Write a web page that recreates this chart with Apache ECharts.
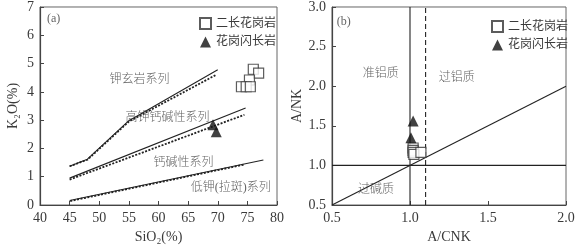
<!DOCTYPE html>
<html><head><meta charset="utf-8">
<script src="https://cdn.jsdelivr.net/npm/echarts@6/dist/echarts.min.js"></script>
<style>html,body{margin:0;padding:0;background:#fff}#c{width:579px;height:251px}</style>
</head><body><div id="c"></div>
<script>
// ---- Chart (a): SiO2 vs K2O ----
const aXTicks = [40,45,50,55,60,65,70,75,80];
const aYTicks = [0,1,2,3,4,5,6,7];
const aMonzoGranite = [[76.0,4.80],[76.9,4.66],[75.35,4.42],[74.0,4.18],[74.8,4.18],[75.5,4.18]];
const aGranodiorite = [[69.2,2.84],[69.75,2.59]];
const aShoSolid = [[45,1.37],[48,1.62],[55,2.98],[70,4.78]];
const aShoDot = [[45,1.37],[48,1.6],[55,2.95],[69.7,4.6]];
const aHkSolid = [[45,0.95],[74.7,3.43]];
const aHkDot = [[45,0.90],[74.5,3.19]];
const aLkSolid = [[45,0.16],[77.7,1.59]];
const aLkDot = [[45.1,0.14],[74.5,1.43]];
const aLabels = [[56.8,4.42,'钾玄岩系列'],[61.5,3.08,'高钾钙碱性系列'],[64.2,1.5,'钙碱性系列'],[72.2,0.62,'低钾(拉斑)系列'],[42.3,6.57,'(a)']];

// ---- Chart (b): A/CNK vs A/NK ----
const bXTicks = [0.5,1.0,1.5,2.0];
const bYTicks = [0.5,1.0,1.5,2.0,2.5,3.0];
const bMonzoGranite = [[1.02,1.22],[1.02,1.19],[1.02,1.165],[1.025,1.14],[1.07,1.165]];
const bGranodiorite = [[1.02,1.56],[1.006,1.35]];
const bVert1 = [[1.0,0.5],[1.0,3.0]];
const bVert11 = [[1.1,0.5],[1.1,3.0]];
const bHoriz = [[0.5,1.0],[2.0,1.0]];
const bDiag = [[0.5,0.5],[2.0,2.0]];
const bLabels = [[0.812,2.16,'准铝质'],[1.30,2.10,'过铝质'],[0.782,0.69,'过碱质'],[0.575,2.815,'(b)']];

const FONT = "'Liberation Serif','Noto Sans CJK SC',serif";
const TXT = '#3a3a3a';
const LINE = '#222';

function axisCommon(){
  return {
    axisLine:{show:true,onZero:false,lineStyle:{color:'#444',width:1.2}},
    axisTick:{show:true,inside:true,length:4,lineStyle:{color:'#444'}},
    splitLine:{show:false},
    axisLabel:{color:TXT,fontFamily:FONT,fontSize:14,margin:6},
    nameTextStyle:{color:TXT,fontFamily:FONT,fontSize:14}
  };
}
function lineS(data,xi,dotted){
  return {type:'line',xAxisIndex:xi,yAxisIndex:xi,data:data,symbol:'none',silent:true,
    lineStyle:{color:LINE,width:dotted?1.8:1.1,type:dotted?[2,1.5]:'solid'},z:2};
}
function labelS(arr,xi){
  return {type:'scatter',xAxisIndex:xi,yAxisIndex:xi,symbolSize:0,silent:true,
    data:arr.map(d=>({value:[d[0],d[1]],name:d[2]})),
    label:{show:true,position:'inside',formatter:p=>p.name,color:TXT,fontFamily:FONT,fontSize:12,fontWeight:300},z:5};
}
const sq = {color:'#fff',borderColor:'#333',borderWidth:1.2};
const tri = {color:'#111'};

const chart = echarts.init(document.getElementById('c'),null,{renderer:'canvas'});
chart.setOption({
  animation:false,
  grid:[
    {left:40,right:302,top:6,bottom:46,show:true,borderColor:'#666',borderWidth:1},
    {left:332,right:13,top:6,bottom:46,show:true,borderColor:'#666',borderWidth:1}
  ],
  xAxis:[
    Object.assign(axisCommon(),{type:'value',gridIndex:0,min:aXTicks[0],max:aXTicks[aXTicks.length-1],interval:5,
      name:'SiO₂(%)',nameLocation:'middle',nameGap:20}),
    Object.assign(axisCommon(),{type:'value',gridIndex:1,min:bXTicks[0],max:bXTicks[bXTicks.length-1],interval:0.5,
      name:'A/CNK',nameLocation:'middle',nameGap:25,
      axisLabel:{color:TXT,fontFamily:FONT,fontSize:14,margin:6,formatter:v=>v.toFixed(1)}})
  ],
  yAxis:[
    Object.assign(axisCommon(),{type:'value',gridIndex:0,min:aYTicks[0],max:aYTicks[aYTicks.length-1],interval:1,
      name:'K₂O(%)',nameLocation:'middle',nameGap:20}),
    Object.assign(axisCommon(),{type:'value',gridIndex:1,min:bYTicks[0],max:bYTicks[bYTicks.length-1],interval:0.5,
      name:'A/NK',nameLocation:'middle',nameGap:28,
      axisLabel:{color:TXT,fontFamily:FONT,fontSize:14,margin:6,formatter:v=>v.toFixed(1)}})
  ],
  legend:[
    {orient:'vertical',left:194,top:12,itemWidth:11,itemHeight:11,itemGap:6,
     textStyle:{color:TXT,fontFamily:FONT,fontSize:12},
     data:[{name:'二长花岗岩',icon:'rect'},{name:'花岗闪长岩',icon:'triangle'}]},
    {orient:'vertical',left:486,top:15,itemWidth:11,itemHeight:11,itemGap:6,
     textStyle:{color:TXT,fontFamily:FONT,fontSize:12},
     data:[{name:'二长花岗岩',icon:'rect'},{name:'花岗闪长岩',icon:'triangle'}]}
  ],
  series:[
    lineS(aShoSolid,0,false), lineS(aShoDot,0,true),
    lineS(aHkSolid,0,false), lineS(aHkDot,0,true),
    lineS(aLkSolid,0,false), lineS(aLkDot,0,true),
    labelS(aLabels,0),
    {type:'scatter',name:'二长花岗岩',xAxisIndex:0,yAxisIndex:0,data:aMonzoGranite,symbol:'rect',symbolSize:10,itemStyle:sq,z:6},
    {type:'scatter',name:'花岗闪长岩',xAxisIndex:0,yAxisIndex:0,data:aGranodiorite,symbol:'triangle',symbolSize:11,itemStyle:tri,z:6},
    lineS(bVert1,1,false),
    {type:'line',xAxisIndex:1,yAxisIndex:1,data:bVert11,symbol:'none',silent:true,lineStyle:{color:LINE,width:1.1,type:[5,3]}},
    lineS(bHoriz,1,false), lineS(bDiag,1,false),
    labelS(bLabels,1),
    {type:'scatter',name:'二长花岗岩',xAxisIndex:1,yAxisIndex:1,data:bMonzoGranite,symbol:'rect',symbolSize:10,itemStyle:sq,z:6},
    {type:'scatter',name:'花岗闪长岩',xAxisIndex:1,yAxisIndex:1,data:bGranodiorite,symbol:'triangle',symbolSize:11,itemStyle:tri,z:6}
  ]
});
</script></body></html>
